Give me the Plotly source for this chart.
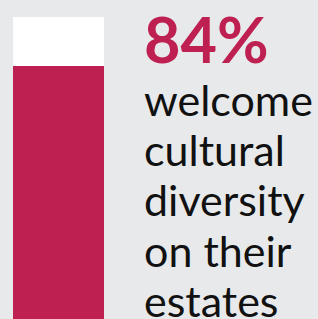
import plotly.graph_objects as go

W, H = 318, 319
percent = [84]
remainder = [100 - percent[0]]
category = ["estates"]
headline = "84%"
label_lines = ["welcome", "cultural", "diversity", "on their", "estates"]

BG = "#E8E9EB"
CRIMSON = "#BE2051"
TOP = 17
PLOT_H = H - TOP


def ypaper(px):
    return 1 - (px - TOP) / PLOT_H


fig = go.Figure()
fig.add_trace(go.Bar(x=category, y=percent, marker=dict(color=CRIMSON, line=dict(width=0)),
                     hoverinfo="skip"))
fig.add_trace(go.Bar(x=category, y=remainder, marker=dict(color="white", line=dict(width=0)),
                     hoverinfo="skip"))

TX = 142 / W
fig.add_annotation(x=TX, y=ypaper(60 - 22), xref="paper", yref="paper", xanchor="left", yanchor="middle",
                   text="<b>" + headline + "</b>", showarrow=False,
                   font=dict(family="Lato", size=63, color=CRIMSON))
baselines = [116, 166, 216, 267, 317]
for line, b in zip(label_lines, baselines):
    fig.add_annotation(x=TX, y=ypaper(b - 17), xref="paper", yref="paper", xanchor="left", yanchor="middle",
                       text=line, showarrow=False,
                       font=dict(family="Lato", size=43, color="#111111"))

fig.update_layout(
    width=W, height=H, barmode="stack", bargap=0, showlegend=False,
    paper_bgcolor=BG, plot_bgcolor=BG,
    margin=dict(l=0, r=0, t=TOP, b=0),
    xaxis=dict(domain=[13 / W, 104 / W], visible=False, range=[-0.5, 0.5]),
    yaxis=dict(visible=False, range=[1.3, 100]),
)
fig.write_html("out.html", config={"displayModeBar": False},
               post_script="document.body.style.margin='0';document.body.style.overflow='hidden';")
